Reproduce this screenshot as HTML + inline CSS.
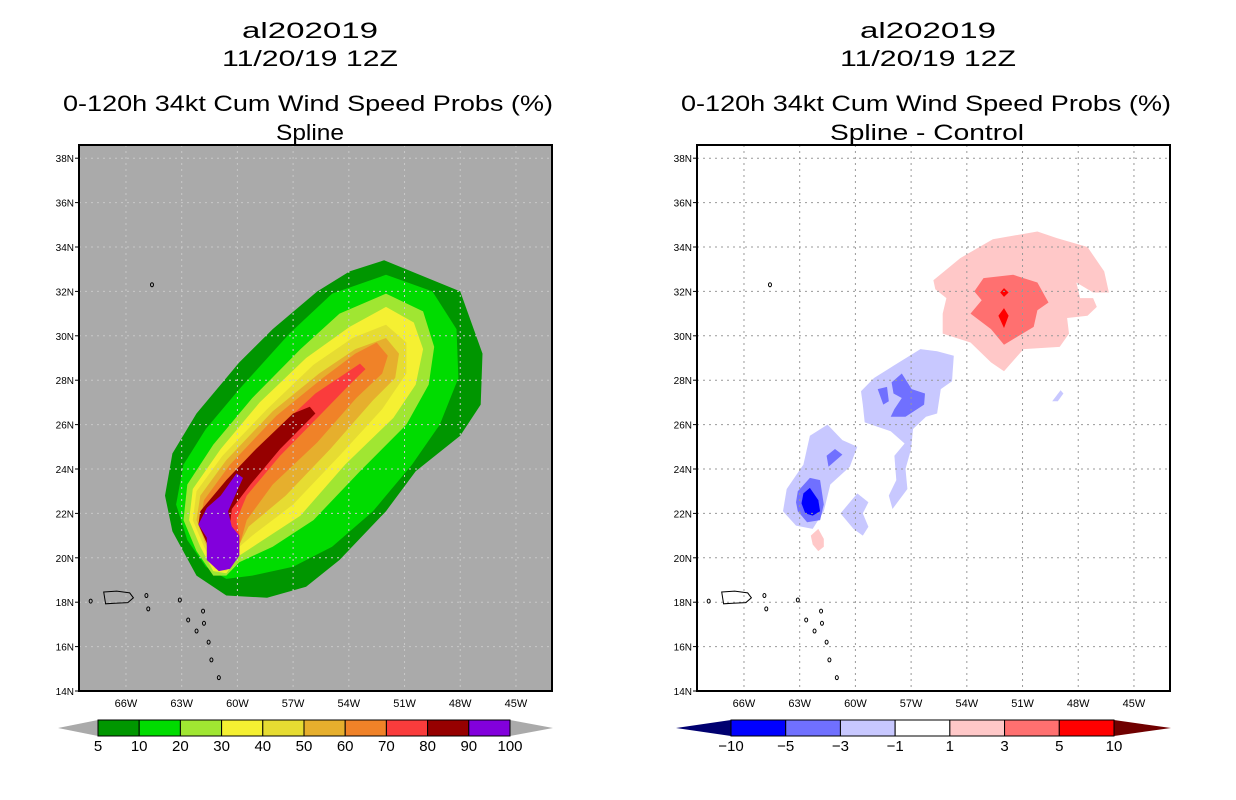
<!DOCTYPE html>
<html><head><meta charset="utf-8"><title>al202019 wind speed probs</title>
<style>
html,body{margin:0;padding:0;background:#fff;}
svg{display:block;font-family:"Liberation Sans","DejaVu Sans",sans-serif;}
</style></head>
<body>
<svg id="root" width="1236" height="800" viewBox="0 0 1236 800">
<g id="titles" font-size="22">
  <text x="310" y="38" text-anchor="middle" textLength="136" lengthAdjust="spacingAndGlyphs">al202019</text>
  <text x="310" y="66" text-anchor="middle" textLength="176" lengthAdjust="spacingAndGlyphs">11/20/19 12Z</text>
  <text x="308" y="111" text-anchor="middle" textLength="490" lengthAdjust="spacingAndGlyphs">0-120h 34kt Cum Wind Speed Probs (%)</text>
  <text x="310" y="140" text-anchor="middle" textLength="68" lengthAdjust="spacingAndGlyphs">Spline</text>
  <text x="928" y="38" text-anchor="middle" textLength="136" lengthAdjust="spacingAndGlyphs">al202019</text>
  <text x="928" y="66" text-anchor="middle" textLength="176" lengthAdjust="spacingAndGlyphs">11/20/19 12Z</text>
  <text x="926" y="111" text-anchor="middle" textLength="490" lengthAdjust="spacingAndGlyphs">0-120h 34kt Cum Wind Speed Probs (%)</text>
  <text x="927" y="140" text-anchor="middle" textLength="194" lengthAdjust="spacingAndGlyphs">Spline - Control</text>
</g>
</svg>
<script>
// ---------- data ----------
const latTicks = [14,16,18,20,22,24,26,28,30,32,34,36,38];
const lonTicks = [66,63,60,57,54,51,48,45];
const probLevels = ['5','10','20','30','40','50','60','70','80','90','100'];
const probColors = ['#009600','#00dc00','#a0e632','#f5f032','#e6dc32','#e6af2d','#f08228','#fa3c3c','#960000','#8200dc'];
const diffLevels = ['-10','-5','-3','-1','1','3','5','10'];
const diffColors = ['#0000ff','#7070ff','#c8c8ff','#ffffff','#ffc8c8','#ff7070','#ff0000'];
const diffLowEnd = '#000070';
const diffHighEnd = '#700000';
// contour polygons: [degrees W, degrees N]
const prob5 = [[52.1,33.4],[48.0,32.0],[46.8,29.2],[46.9,26.9],[48.0,25.5],[50.4,23.9],[52.0,22.1],[54.5,19.9],[56.3,18.7],[58.4,18.2],[60.6,18.3],[62.2,19.2],[63.5,21.2],[63.9,22.8],[63.5,24.7],[62.2,26.5],[59.9,28.8],[58.1,30.3],[55.7,32.0],[53.96,32.9]];
const prob10 = [[52.0,32.75],[49.5,32.0],[48.2,30.3],[48.1,28.1],[49.1,26.0],[50.6,24.2],[52.7,22.1],[54.9,20.5],[57.0,19.6],[59.2,19.2],[60.6,19.05],[61.7,19.6],[62.7,20.8],[63.3,22.4],[62.9,24.2],[61.7,25.8],[59.9,27.6],[57.2,30.1],[54.9,31.9]];
const prob20 = [[52.0,31.9],[50.0,31.1],[49.4,29.5],[49.7,27.8],[50.9,26.0],[53.4,23.9],[55.9,21.7],[58.1,20.5],[59.9,19.8],[60.6,19.2],[61.3,19.2],[62.2,20.3],[62.9,21.7],[62.7,23.3],[61.3,25.1],[59.2,27.2],[56.6,29.4],[54.5,31.0]];
const prob30 = [[52.0,31.3],[50.5,30.6],[50.0,29.4],[50.4,27.8],[51.6,26.3],[54.2,24.2],[56.6,21.9],[58.8,20.7],[59.9,20.1],[60.6,19.3],[61.3,19.4],[62.0,20.5],[62.6,21.7],[62.4,23.1],[60.9,24.9],[58.8,27.0],[56.3,29.0],[53.96,30.4]];
const prob40 = [[52.0,30.5],[50.9,29.7],[50.9,28.3],[52.2,26.7],[54.5,24.6],[57.0,22.4],[59.2,21.0],[59.9,20.5],[60.6,19.4],[61.2,19.5],[61.8,20.5],[62.4,21.7],[62.2,23.0],[60.8,24.6],[58.4,26.7],[55.9,28.7],[53.8,29.9]];
const prob50 = [[52.0,29.9],[51.3,29.2],[51.5,28.1],[52.7,27.1],[55.0,24.9],[57.4,22.8],[59.4,21.4],[59.9,20.6],[60.5,19.5],[61.1,19.6],[61.75,20.7],[62.2,21.7],[62.0,22.8],[60.6,24.4],[58.1,26.6],[55.6,28.3],[53.65,29.4]];
const prob60 = [[52.5,29.7],[51.9,29.1],[52.2,28.3],[53.6,27.2],[55.7,25.2],[58.1,23.3],[59.5,21.7],[59.8,20.8],[60.3,19.6],[61.0,19.7],[61.6,20.7],[62.0,21.7],[61.8,22.6],[60.4,24.2],[57.9,26.4],[55.4,28.1],[53.65,29.2]];
const prob70 = [[53.4,28.75],[53.1,28.5],[53.96,27.8],[55.7,26.3],[57.7,24.6],[59.5,22.8],[60.05,21.7],[59.9,21.0],[59.9,20.1],[60.4,19.7],[60.9,19.8],[61.5,20.65],[61.8,21.5],[61.7,22.4],[60.2,23.85],[58.1,25.6],[55.8,27.4]];
const prob80 = [[56.1,26.8],[55.8,26.5],[57.7,24.9],[59.3,23.3],[60.3,22.2],[60.4,21.5],[60.1,21.2],[59.9,20.3],[60.6,19.7],[61.3,20.0],[61.75,20.85],[62.1,21.5],[62.0,22.1],[60.6,23.5],[59.0,24.9],[57.0,26.5]];
const prob90 = [[60.05,23.8],[59.7,23.6],[60.5,22.1],[60.3,21.4],[59.9,21.0],[59.9,20.1],[60.4,19.5],[61.0,19.4],[61.65,19.9],[61.65,20.9],[62.1,21.5],[61.65,22.25],[60.9,22.8]];
const diffPos1a = [[55.8,32.5],[54.35,33.5],[52.6,34.35],[50.2,34.7],[49.15,34.4],[47.5,34.0],[46.6,32.9],[46.35,31.95],[47.2,31.95],[48.1,32.4],[47.9,31.7],[47.2,31.7],[47.0,31.3],[47.5,30.9],[48.6,30.8],[48.5,30.1],[49.0,29.5],[50.95,29.4],[52.0,28.4],[52.7,28.8],[53.8,29.7],[55.3,30.1],[55.3,31.0],[55.1,31.7],[55.7,32.1]];
const diffPos1b = [[62.4,21.0],[62.0,21.3],[61.7,20.85],[61.7,20.5],[62.0,20.3],[62.3,20.6]];
const diffPos3 = [[53.6,32.0],[53.1,32.6],[51.5,32.75],[50.2,32.4],[49.6,31.5],[50.2,31.15],[50.4,30.4],[52.0,29.6],[52.7,30.3],[53.8,31.0],[53.2,31.6]];
const diffPos5a = [[52.0,31.25],[51.75,30.9],[52.0,30.35],[52.3,30.9]];
const diffPos5b = [[52.0,32.15],[51.75,31.95],[52.0,31.75],[52.2,31.95]];
const diffNeg1a = [[59.7,27.5],[59.0,28.1],[57.95,28.65],[56.5,29.4],[55.6,29.3],[54.7,29.1],[54.8,27.95],[55.4,27.6],[55.6,26.5],[56.2,26.35],[56.9,25.8],[57.0,24.9],[57.3,24.0],[57.2,23.1],[58.0,22.2],[58.2,22.8],[57.8,23.5],[57.9,24.6],[57.35,25.15],[58.1,25.7],[59.5,26.1],[59.6,26.9]];
const diffNeg1b = [[63.9,22.1],[63.7,23.1],[62.8,24.2],[62.45,25.5],[61.5,26.0],[60.7,25.3],[59.9,25.0],[60.3,24.1],[61.35,23.3],[61.7,22.1],[62.3,21.3],[63.2,21.45]];
const diffNeg1c = [[60.8,22.0],[59.9,22.9],[59.3,22.5],[59.6,22.0],[59.3,21.4],[59.6,21.0],[60.1,21.3]];
const diffNeg1d = [[49.4,27.05],[48.95,27.55],[48.8,27.4],[49.1,27.05]];
const diffNeg3a = [[58.8,27.6],[58.3,27.7],[58.2,27.05],[58.5,26.9]];
const diffNeg3b = [[58.05,27.9],[57.5,28.3],[56.97,27.6],[56.25,27.4],[56.3,26.9],[57.3,26.35],[58.1,26.35],[57.9,26.7],[57.5,27.2],[57.95,27.4]];
const diffNeg3c = [[61.55,24.6],[61.1,24.9],[60.7,24.65],[61.45,24.1]];
const diffNeg3d = [[63.1,23.0],[62.45,23.6],[61.9,23.5],[61.7,22.4],[61.9,21.7],[62.6,21.6],[63.1,22.1],[63.2,22.5]];
const diffNeg5 = [[62.8,22.9],[62.45,23.15],[62.0,22.6],[61.9,22.1],[62.3,21.9],[62.7,22.0],[62.9,22.45]];
const coastPR = [[67.2,18.46],[66.5,18.5],[65.8,18.42],[65.6,18.2],[65.9,17.98],[66.6,17.95],[67.1,17.93]];
const smallIslands = [[63.1,18.1],[61.85,17.6],[62.65,17.2],[61.8,17.05],[62.2,16.7],[61.55,16.2],[61.4,15.4],[61.0,14.6],[67.9,18.05],[64.8,17.7],[64.9,18.3],[64.6,32.3]];

// ---------- axes ----------
const NS = 'http://www.w3.org/2000/svg';
const svg = document.getElementById('root');
const lonW0 = 68.53, pxPerLon = 18.57, lat0 = 14, pxPerLat = 22.2, y0 = 691;
function xOf(off, w){ return off + 79 + (lonW0 - w) * pxPerLon; }
function yOf(lat){ return y0 - (lat - lat0) * pxPerLat; }
function mk(tag, attrs, parent){
  const e = document.createElementNS(NS, tag);
  for (const k in attrs) e.setAttribute(k, attrs[k]);
  parent.appendChild(e); return e;
}
function pts(off, arr){ return arr.map(p => xOf(off,p[0]).toFixed(1)+','+yOf(p[1]).toFixed(1)).join(' '); }

function panel(off, bg, name){
  const g = mk('g', {}, svg);
  
  
  const clipId = 'clip' + off;
  const cp = mk('clipPath', {id: clipId}, g);
  mk('rect', {x: off+79, y: 145, width: 473, height: 546}, cp);
  const bgRect = mk('rect', {x: off+79, y: 145, width: 473, height: 546, fill: bg}, g);
  
  
  const inner = mk('g', {'clip-path': 'url(#' + clipId + ')'}, g);
  return {g, inner};
}
function drawPoly(parent, off, arr, fill, nm){
  const p = mk('polygon', {points: pts(off, arr), fill: fill, 'stroke-linejoin': 'round'}, parent);
  
  
}
function gridAndAxes(P, off, gridColor){
  for (const w of lonTicks){
    const l = mk('line', {x1: xOf(off,w), x2: xOf(off,w), y1: 145, y2: 691, stroke: gridColor, 'stroke-width': 1, 'stroke-dasharray': '2,4'}, P.inner);
    
    
    const t = mk('text', {x: xOf(off,w), y: 707, 'font-size': 11, 'text-anchor': 'middle'}, P.g);
    t.textContent = w + 'W';
    
    
  }
  for (const lat of latTicks){
    const l = mk('line', {x1: off+79, x2: off+552, y1: yOf(lat), y2: yOf(lat), stroke: gridColor, 'stroke-width': 1, 'stroke-dasharray': '2,4'}, P.inner);
    
    
    mk('line', {x1: off+75, x2: off+79, y1: yOf(lat), y2: yOf(lat), stroke: '#000'}, P.g);
    const t = mk('text', {x: off+74, y: yOf(lat)+4, 'font-size': 10, 'text-anchor': 'end'}, P.g);
    t.textContent = lat + 'N';
    
    
  }
  const c = mk('polygon', {points: pts(off, coastPR), fill: 'none', stroke: '#000', 'stroke-width': 1}, P.inner);
  
  
  for (const s of smallIslands){
    const e = mk('ellipse', {cx: xOf(off,s[0]), cy: yOf(s[1]), rx: 1.5, ry: 2, fill: 'none', stroke: '#000', 'stroke-width': 1}, P.inner);
    
    
  }
  const f = mk('rect', {x: off+79, y: 145, width: 473, height: 546, fill: 'none', stroke: '#000', 'stroke-width': 2}, P.g);
  
  
}

// left panel
const L = panel(0, '#aaaaaa', 'left-map-spline');
const probPolys = [prob5, prob10, prob20, prob30, prob40, prob50, prob60, prob70, prob80, prob90];
probPolys.forEach((poly, i) => drawPoly(L.inner, 0, poly, probColors[i], 'prob-contour-' + probLevels[i]));
gridAndAxes(L, 0, '#c8c8c8');

// right panel
const R = panel(618, '#ffffff', 'right-map-difference');
drawPoly(R.inner, 618, diffPos1a, diffColors[4], 'diff-contour-pos1');
drawPoly(R.inner, 618, diffPos1b, diffColors[4], 'diff-contour-pos1');
drawPoly(R.inner, 618, diffPos3, diffColors[5], 'diff-contour-pos3');
drawPoly(R.inner, 618, diffPos5a, diffColors[6], 'diff-contour-pos5');
drawPoly(R.inner, 618, diffPos5b, diffColors[6], 'diff-contour-pos5');
[diffNeg1a, diffNeg1b, diffNeg1c, diffNeg1d].forEach(p => drawPoly(R.inner, 618, p, diffColors[2], 'diff-contour-neg1'));
[diffNeg3a, diffNeg3b, diffNeg3c, diffNeg3d].forEach(p => drawPoly(R.inner, 618, p, diffColors[1], 'diff-contour-neg3'));
drawPoly(R.inner, 618, diffNeg5, diffColors[0], 'diff-contour-neg5');
gridAndAxes(R, 618, '#999999');

// colorbars
function colorbar(x0, x1, tipL, tipR, colors, labels, endL, endR, name){
  const g = mk('g', {}, svg);
  
  
  const yT = 720, yB = 736, yM = 728;
  const tl = mk('polygon', {points: `${tipL},${yM} ${x0},${yT} ${x0},${yB}`, fill: endL}, g);
  
  
  const tr = mk('polygon', {points: `${tipR},${yM} ${x1},${yT} ${x1},${yB}`, fill: endR}, g);
  
  
  const w = (x1 - x0) / colors.length;
  colors.forEach((c, i) => {
    const r = mk('rect', {x: x0 + i*w, y: yT, width: w, height: yB - yT, fill: c, stroke: '#000', 'stroke-width': 1}, g);
    
    
  });
  labels.forEach((lb, i) => {
    const t = mk('text', {x: x0 + i*w, y: 751, 'font-size': 15, 'text-anchor': 'middle'}, g);
    t.textContent = lb.replace('-', '\u2212');
    
    
  });
}
colorbar(98, 510, 58, 553, probColors, probLevels, '#aaaaaa', '#aaaaaa', 'left-colorbar');
colorbar(731, 1114, 676, 1171, diffColors, diffLevels, diffLowEnd, diffHighEnd, 'right-colorbar');
</script>
</body></html>
